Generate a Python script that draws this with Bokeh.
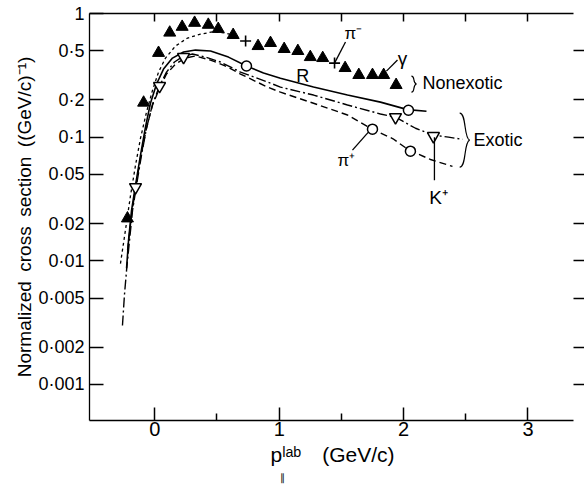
import math
from bokeh.plotting import figure
from bokeh.models import (Range1d, FixedTicker, LinearAxis, LogAxis, Label, Title,
                          CustomJSTickFormatter)
from bokeh.embed import file_html
from bokeh.resources import INLINE

# ---------------- data ----------------
# Nonexotic data (filled markers: pi-, gamma)
nonexotic_x = [-0.22, -0.09, 0.03, 0.12, 0.22, 0.32, 0.43, 0.51, 0.63, 0.83, 0.93,
               1.04, 1.15, 1.25, 1.35, 1.53, 1.64, 1.75, 1.84, 1.94]
nonexotic_y = [0.022, 0.19, 0.48, 0.70, 0.78, 0.84, 0.81, 0.75, 0.67, 0.545, 0.577,
               0.516, 0.497, 0.444, 0.436, 0.362, 0.318, 0.318, 0.318, 0.264]
cross_x = [0.73, 1.445]
cross_y = [0.599, 0.397]

# Exotic data
kplus_x = [-0.155, 0.038, 0.231, 1.935, 2.240]
kplus_y = [0.0394, 0.259, 0.445, 0.145, 0.102]
proton_x = [0.737, 2.039]
proton_y = [0.376, 0.165]
piplus_x = [1.750, 2.055]
piplus_y = [0.116, 0.077]

# Curves
nonexotic_fit_x = [-0.276, -0.236, -0.195, -0.155, -0.115, -0.067, -0.018, 0.030, 0.086,
                   0.166, 0.263, 0.367, 0.464, 0.569, 0.649]
nonexotic_fit_y = [0.0095, 0.0177, 0.0339, 0.0593, 0.098, 0.159, 0.240, 0.336, 0.436,
                   0.545, 0.633, 0.68, 0.71, 0.695, 0.657]

proton_fit_x = [-0.227, -0.211, -0.187, -0.155, -0.115, -0.075, -0.035, 0.014, 0.070,
                0.142, 0.231, 0.327, 0.448, 0.592, 0.737, 0.874, 1.010, 1.276, 1.549,
                1.814, 2.032, 2.184]
proton_fit_y = [0.0087, 0.0147, 0.0256, 0.0409, 0.0715, 0.1205, 0.188, 0.269, 0.355,
                0.436, 0.488, 0.506, 0.497, 0.444, 0.376, 0.330, 0.300, 0.254, 0.219,
                0.192, 0.167, 0.162]

kplus_fit_x = [-0.260, -0.244, -0.227, -0.203, -0.179, -0.147, -0.107, -0.067, -0.018,
               0.038, 0.094, 0.158, 0.231, 0.303, 0.407, 0.528, 0.689, 0.906, 1.010,
               1.276, 1.549, 1.814, 1.935, 2.096, 2.240, 2.361, 2.474]
kplus_fit_y = [0.0030, 0.0053, 0.0084, 0.0147, 0.0256, 0.0409, 0.0715, 0.118, 0.185,
               0.259, 0.336, 0.405, 0.453, 0.470, 0.444, 0.405, 0.336, 0.279, 0.254,
               0.219, 0.182, 0.154, 0.145, 0.118, 0.104, 0.100, 0.096]

piplus_fit_x = [-0.219, -0.187, -0.155, -0.115, -0.067, -0.018, 0.038, 0.094, 0.166,
                0.246, 0.327, 0.448, 0.569, 0.689, 0.906, 1.010, 1.276, 1.549, 1.733,
                1.915, 2.039, 2.216, 2.393]
piplus_fit_y = [0.0122, 0.0234, 0.0386, 0.0676, 0.118, 0.182, 0.249, 0.324, 0.390,
                0.436, 0.453, 0.420, 0.376, 0.324, 0.254, 0.231, 0.188, 0.151, 0.118,
                0.097, 0.079, 0.066, 0.058]

# Ticks
x_major = [0, 1, 2, 3]
x_minor = [0.5, 1.5, 2.5]
x_top = [0, 0.5, 1, 1.5, 2, 2.5, 3]
y_ticks = [0.001, 0.002, 0.005, 0.01, 0.02, 0.05, 0.1, 0.2, 0.5, 1]
y_tick_labels = ["0·001", "0·002", "0·005", "0·01", "0·02", "0·05", "0·1", "0·2", "0·5", "1"]

# ---------------- figure ----------------
FONT = "Liberation Sans"
p = figure(width=584, height=486, y_axis_type="log",
           x_range=Range1d(-0.525, 3.366), y_range=Range1d(0.000511, 1.0),
           output_backend="svg", toolbar_location=None,
           min_border_left=89, min_border_right=11, min_border_top=13, min_border_bottom=66)
p.grid.visible = False
p.outline_line_color = None
p.background_fill_color = "white"
p.border_fill_color = "white"

# left axis
ya = p.yaxis[0]
ya.ticker = FixedTicker(ticks=y_ticks)
ya.major_label_overrides = {t: s for t, s in zip(y_ticks, y_tick_labels)}
ya.major_tick_in = 14
ya.major_tick_out = 0
ya.minor_tick_line_color = None
ya.axis_line_width = 1.3
ya.major_tick_line_width = 1.5
ya.major_label_standoff = 5
ya.major_label_text_font = FONT
ya.major_label_text_font_size = "18px"
ya.major_label_text_color = "black"

# bottom axis
xa = p.xaxis[0]
xa.ticker = FixedTicker(ticks=x_major, minor_ticks=x_minor)
xa.major_tick_in = 13
xa.major_tick_out = 0
xa.minor_tick_in = 7
xa.minor_tick_out = 0
xa.axis_line_width = 1.5
xa.major_tick_line_width = 1.5
xa.minor_tick_line_width = 1.5
xa.major_label_standoff = 1
xa.major_label_text_font = FONT
xa.major_label_text_font_size = "20px"
xa.major_label_text_color = "black"

blank = CustomJSTickFormatter(code="return ''")
top = LinearAxis(ticker=FixedTicker(ticks=x_top), formatter=blank,
                 major_tick_in=8, major_tick_out=0, minor_tick_line_color=None,
                 axis_line_width=1.5, major_tick_line_width=1.5,
                 major_label_standoff=0, major_label_text_font_size="1px")
p.add_layout(top, "above")
right = LogAxis(ticker=FixedTicker(ticks=y_ticks[:-1]), formatter=blank,
                major_tick_in=0, major_tick_out=11, minor_tick_line_color=None,
                axis_line_color=None, major_tick_line_width=1.5,
                major_label_standoff=0, major_label_text_font_size="1px")
p.add_layout(right, "right")

# y-axis title as a side-panel title (vertical, shifted up a little)
p.add_layout(Title(text="Normalized\u2002cross\u2002section\u2002((GeV/c)⁻¹)",
                   align="center", offset=25, text_font=FONT, text_font_size="19px",
                   text_font_style="normal", text_color="black", standoff=2), "left")

# x-axis title: two stacked side-panel titles below the axis
p.add_layout(Title(text="pˡᵃᵇ\u2002\u2002(GeV/c)", align="left", offset=181,
                   text_font=FONT, text_font_size="21px", text_font_style="normal",
                   text_color="black", standoff=5), "below")
p.add_layout(Title(text="∥", align="left", offset=190,
                   text_font=FONT, text_font_size="10px", text_font_style="normal",
                   text_color="#000000", standoff=3), "below")

# ---------------- curves ----------------
p.line(nonexotic_fit_x, nonexotic_fit_y, line_color="black", line_width=1.3, line_dash="3 3")
p.line(proton_fit_x, proton_fit_y, line_color="black", line_width=1.6)
p.line(kplus_fit_x, kplus_fit_y, line_color="black", line_width=1.4, line_dash="10 3 2 3")
p.line(piplus_fit_x, piplus_fit_y, line_color="black", line_width=1.4, line_dash="7 4")

# ---------------- markers ----------------
p.scatter(nonexotic_x, nonexotic_y, marker="triangle", size=12,
          fill_color="black", line_color="black")
p.scatter(cross_x, cross_y, marker="cross", size=11, line_color="black", line_width=1.6)
p.scatter(kplus_x, kplus_y, marker="inverted_triangle", size=12,
          fill_color="white", line_color="black", line_width=1.5)
p.scatter(proton_x, proton_y, marker="circle", size=10,
          fill_color="white", line_color="black", line_width=1.5)
p.scatter(piplus_x, piplus_y, marker="circle", size=10,
          fill_color="white", line_color="black", line_width=1.5)

# ---------------- annotations ----------------
def lbl(text, x, y, size, align="left", baseline="middle", style="normal"):
    p.add_layout(Label(x=x, y=y, text=text,
                       text_font=FONT, text_font_size=f"{size}px", text_align=align,
                       text_baseline=baseline, text_font_style=style,
                       text_color="black"))

# leader lines
p.line([1.445, 1.533], [0.397, 0.588], line_color="black", line_width=1.3)
p.line([1.862, 1.951], [0.342, 0.420], line_color="black", line_width=1.3)
p.line([1.589, 1.717], [0.0785, 0.1098], line_color="black", line_width=1.3)
p.line([2.248, 2.248], [0.100, 0.0448], line_color="black", line_width=1.3)

# braces
p.bezier(x0=[2.063, 2.103], y0=[0.312, 0.269], x1=[2.103, 2.063], y1=[0.269, 0.231],
         cx0=[2.095, 2.071], cy0=[0.312, 0.264], cx1=[2.071, 2.095], cy1=[0.274, 0.231],
         line_color="black", line_width=1.2)
p.bezier(x0=[2.451, 2.531], y0=[0.1564, 0.0946], x1=[2.531, 2.451], y1=[0.0946, 0.0572],
         cx0=[2.507, 2.482], cy0=[0.1564, 0.0911], cx1=[2.482, 2.507], cy1=[0.0981, 0.0572],
         line_color="black", line_width=1.2)

lbl("π⁻", 1.525, 0.695, 17)
lbl("γ", 1.991, 0.436, 19, align="center")
lbl("Nonexotic", 2.152, 0.2737, 18)
lbl("Exotic", 2.562, 0.0946, 18)
lbl("K⁺", 2.281, 0.0327, 19, align="center")
lbl("π⁺", 1.541, 0.0651, 17, align="center")
lbl("R", 1.189, 0.312, 18, align="center")

open("out.html", "w").write(file_html(p, INLINE))
